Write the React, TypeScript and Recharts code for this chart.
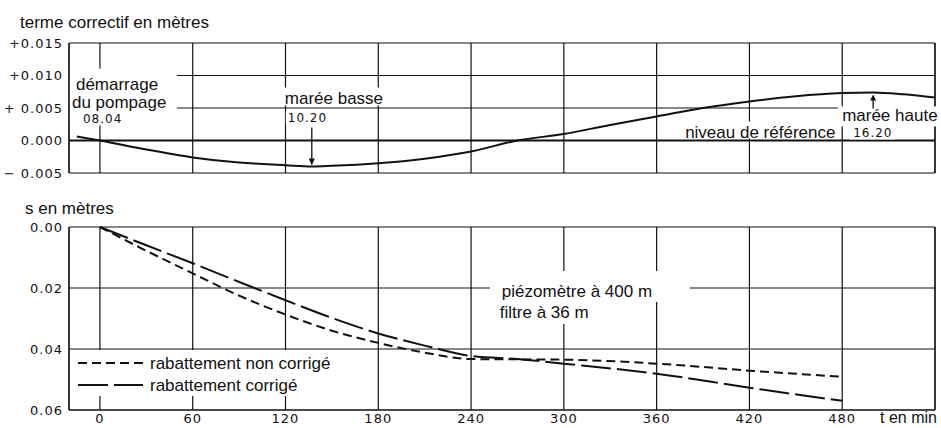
import React from 'react';
import {
  LineChart,
  Line,
  XAxis,
  YAxis,
  CartesianGrid,
  ReferenceLine,
  ReferenceDot,
} from 'recharts';

// time axis (minutes after pump start)
const X_TICKS = [0, 60, 120, 180, 240, 300, 360, 420, 480];

// upper panel: tidal correction term (m)
const T_TIDE = [-15, 0, 30, 60, 90, 120, 137, 150, 180, 210, 240, 270, 300, 330, 360, 390, 420, 450, 480, 500, 520, 540];
const CORRECTION = [
  0.0006, 0, -0.0014, -0.0026, -0.0034, -0.0038, -0.004, -0.0039, -0.0035, -0.0028, -0.0017,
  0, 0.001, 0.0024, 0.0037, 0.005, 0.006, 0.0068, 0.0073, 0.0074, 0.0071, 0.0066,
];
const TOP_TICKS = [-0.005, 0, 0.005, 0.01, 0.015];
const TOP_TICK_LABELS = ['\u2212 0.005', '0.000', '+ 0.005', '+0.010', '+0.015'];

// lower panel: drawdown s (m)
const T_DRAW = [0, 30, 60, 90, 120, 150, 180, 210, 240, 270, 300, 360, 420, 480];
const S_UNCORRECTED = [0, 0.0078, 0.0152, 0.0225, 0.0287, 0.034, 0.038, 0.0412, 0.0433, 0.0434, 0.0435, 0.0448, 0.0471, 0.0491];
const S_CORRECTED = [0, 0.006, 0.0119, 0.018, 0.024, 0.0298, 0.0349, 0.0389, 0.0423, 0.0433, 0.0448, 0.0481, 0.0527, 0.057];
const BOTTOM_TICKS = [0, 0.02, 0.04, 0.06];

const INK = '#111';
const TEXT_FONT = '"Liberation Sans", Arial, sans-serif';
const NUM_FONT = '"DejaVu Sans", sans-serif';

const txt = { fontFamily: TEXT_FONT, fontSize: 17, fill: INK };
const num = { fontFamily: NUM_FONT, fontSize: 12, fill: INK, letterSpacing: 1 };
const tickStyle = { fill: INK, fontSize: 13, fontFamily: NUM_FONT, letterSpacing: 1 };

const topData = T_TIDE.map((t, i) => ({ t, v: CORRECTION[i] }));
const bottomData = T_DRAW.map((t, i) => ({ t, a: S_UNCORRECTED[i], b: S_CORRECTED[i] }));

// annotations, anchored on data points
const PumpStart = ({ cx, cy }: any) => (
  <g>
    <rect x={cx - 30} y={cy - 72} width={107} height={57} fill="#fff" />
    <text x={cx - 24} y={cy - 51} {...txt}>démarrage</text>
    <text x={cx - 28} y={cy - 33} {...txt}>du pompage</text>
    <text x={cx - 17} y={cy - 18} {...num}>08.04</text>
  </g>
);

const LowTide = ({ cx, cy }: any) => (
  <g>
    <rect x={cx - 29} y={cy - 79} width={100} height={18} fill="#fff" />
    <rect x={cx - 26} y={cy - 55} width={40} height={13} fill="#fff" />
    <text x={cx - 27} y={cy - 63} {...txt}>marée basse</text>
    <text x={cx - 24} y={cy - 45} {...num}>10.20</text>
    <line x1={cx} x2={cx} y1={cy - 39} y2={cy - 6} stroke={INK} strokeWidth={1.3} />
    <polygon points={`${cx - 3},${cy - 8} ${cx + 3},${cy - 8} ${cx},${cy - 1}`} fill={INK} />
  </g>
);

const RefLevel = ({ cx, cy }: any) => (
  <g>
    <rect x={cx - 68} y={cy - 19} width={157} height={17} fill="#fff" />
    <text x={cx + 86} y={cy - 3} textAnchor="end" {...txt}>niveau de référence</text>
  </g>
);

const HighTide = ({ cx, cy }: any) => (
  <g>
    <rect x={cx - 35} y={cy + 14} width={98} height={20} fill="#fff" />
    <rect x={cx - 23} y={cy + 34} width={45} height={13} fill="#fff" />
    <text x={cx - 31} y={cy + 29} {...txt}>marée haute</text>
    <text x={cx - 20} y={cy + 45} {...num}>16.20</text>
    <line x1={cx} x2={cx} y1={cy + 16} y2={cy + 7} stroke={INK} strokeWidth={1.3} />
    <polygon points={`${cx - 3},${cy + 8} ${cx + 3},${cy + 8} ${cx},${cy + 2}`} fill={INK} />
  </g>
);

const LegendBox = ({ cx, cy }: any) => (
  <g>
    <rect x={cx + 1} y={cy - 60} width={276} height={46} fill="#fff" />
    <line x1={cx + 9} x2={cx + 74} y1={cy - 47} y2={cy - 47} stroke={INK} strokeWidth={2} strokeDasharray="9 5" />
    <line x1={cx + 9} x2={cx + 74} y1={cy - 25} y2={cy - 25} stroke={INK} strokeWidth={2} strokeDasharray="30 6" />
    <text x={cx + 81} y={cy - 41} {...txt}>rabattement non corrigé</text>
    <text x={cx + 81} y={cy - 19} {...txt}>rabattement corrigé</text>
  </g>
);

const WellNote = ({ cx, cy }: any) => (
  <g>
    <rect x={cx - 74} y={cy - 17} width={200} height={31} fill="#fff" />
    <rect x={cx - 74} y={cy + 13} width={116} height={23} fill="#fff" />
    <text x={cx - 62} y={cy + 9} {...txt}>piézomètre à 400 m</text>
    <text x={cx - 64} y={cy + 30} {...txt}>filtre à 36 m</text>
  </g>
);

export default function App() {
  return (
    <div style={{ position: 'absolute', left: 0, top: 0, width: 941, height: 428, background: '#fff' }}>
      <div style={{ position: 'absolute', left: 0, top: 0 }}>
        <LineChart width={941} height={190} data={topData} margin={{ top: 43, right: 6, bottom: 17, left: 0 }}>
          <CartesianGrid stroke={INK} strokeWidth={1.2} />
          <XAxis type="number" dataKey="t" domain={[-20, 540]} ticks={X_TICKS} hide />
          <YAxis
            type="number"
            domain={[-0.005, 0.015]}
            ticks={TOP_TICKS}
            width={69}
            tickSize={0}
            tickMargin={6}
            tickLine={false}
            axisLine={{ stroke: INK, strokeWidth: 1.2 }}
            tick={tickStyle}
            tickFormatter={(v: number) => TOP_TICK_LABELS[TOP_TICKS.indexOf(v)]}
          />
          <ReferenceLine x={540} stroke={INK} strokeWidth={1.2} />
          <ReferenceLine y={0} stroke={INK} strokeWidth={2} />
          <ReferenceDot x={0} y={0} shape={PumpStart} />
          <ReferenceDot x={137} y={-0.004} shape={LowTide} />
          <ReferenceDot x={420} y={0} shape={RefLevel} />
          <ReferenceDot x={500} y={0.0074} shape={HighTide} />
          <Line dataKey="v" type="monotone" stroke={INK} strokeWidth={2} dot={false} isAnimationActive={false} />
        </LineChart>
      </div>
      <div style={{ position: 'absolute', left: 0, top: 190 }}>
        <LineChart width={941} height={238} data={bottomData} margin={{ top: 37, right: 6, bottom: 0, left: 0 }}>
          <CartesianGrid stroke={INK} strokeWidth={1.2} />
          <XAxis
            type="number"
            dataKey="t"
            domain={[-20, 540]}
            ticks={X_TICKS}
            height={18}
            tickSize={0}
            tickMargin={4}
            tickLine={false}
            axisLine={{ stroke: INK, strokeWidth: 1.2 }}
            tick={tickStyle}
          />
          <YAxis
            type="number"
            domain={[0, 0.06]}
            reversed
            ticks={BOTTOM_TICKS}
            width={69}
            tickSize={0}
            tickMargin={6}
            tickLine={false}
            axisLine={{ stroke: INK, strokeWidth: 1.2 }}
            tick={tickStyle}
            tickFormatter={(v: number) => v.toFixed(2)}
          />
          <ReferenceLine x={540} stroke={INK} strokeWidth={1.2} />
          <ReferenceDot x={-20} y={0.06} shape={LegendBox} />
          <ReferenceDot x={300} y={0.02} shape={WellNote} />
          <Line dataKey="a" type="monotone" stroke={INK} strokeWidth={2} strokeDasharray="9 5" dot={false} isAnimationActive={false} />
          <Line dataKey="b" type="monotone" stroke={INK} strokeWidth={2} strokeDasharray="30 6" dot={false} isAnimationActive={false} />
        </LineChart>
      </div>
      <svg width={941} height={428} style={{ position: 'absolute', left: 0, top: 0, pointerEvents: 'none' }}>
        <text x={20} y={28} {...txt}>terme correctif en mètres</text>
        <text x={25} y={214} {...txt}>s en mètres</text>
        <text x={880} y={423} fontSize={16} fontFamily={TEXT_FONT} fill={INK}>t en min</text>
      </svg>
    </div>
  );
}
